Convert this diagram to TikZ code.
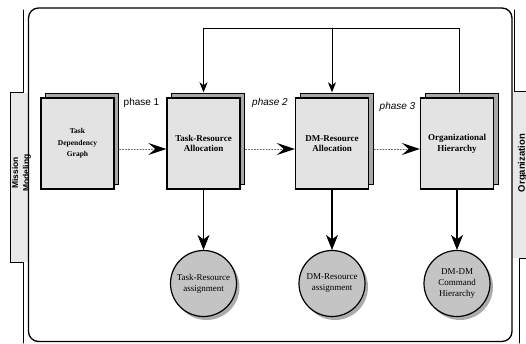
\documentclass[tikz,border=0pt]{standalone}
\usepackage{fontspec}
\setmainfont{Liberation Serif}
\setsansfont{Liberation Sans}
\usetikzlibrary{arrows.meta,shadows}

\begin{document}
\begin{tikzpicture}[x=10pt,y=10pt,line cap=round,
  stage/.style={draw,line width=1.4pt,fill=gray!22,minimum width=73pt,minimum height=91pt,align=center,inner sep=1pt,
    font=\bfseries\fontsize{9}{10.7}\selectfont,
    copy shadow={shadow xshift=4.5pt,shadow yshift=5pt,fill=gray!68,draw=black,line width=.6pt}},
  result/.style={circle,draw,line width=1.2pt,fill=gray!46,minimum size=66pt,inner sep=0pt,align=center,
    font=\fontsize{9}{11}\selectfont,
    drop shadow={shadow xshift=3pt,shadow yshift=-3.5pt,fill=gray!65,opacity=1}},
  yields/.style={line width=1.6pt,-{Stealth[length=15pt,width=12pt,inset=4.5pt,line width=.8pt]}},
  phase/.style={gray!70!black,dotted,line width=.9pt,-{Stealth[length=18pt,width=12pt,inset=7pt,color=black,line width=1pt]}},
  back/.style={line width=.8pt,-{Stealth[length=10pt,width=8pt,inset=3pt]}},
  tag/.style={font=\sffamily\fontsize{10}{12}\selectfont},
  side/.style={rotate=90,align=center,font=\sffamily\bfseries\fontsize{8.5}{11}\selectfont}]
\useasboundingbox (0,0) rectangle (52.6,34.3);
\fill[gray!18] (1.0,8.1) rectangle (2.85,25.0);
\fill[gray!18] (51.2,8.5) rectangle (52.6,25.1);
\draw[line width=1pt] (2.3,33.3) -- (2.3,25.0) -- (1.0,25.0) -- (1.0,8.1) -- (2.3,8.1) -- (2.3,0);
\draw[line width=1pt] (51.4,33.3) -- (51.4,25.1) -- (52.6,25.1);
\draw[line width=1pt] (52.6,8.5) -- (51.9,8.5) -- (51.9,0);
\draw[line width=1.3pt,rounded corners=10pt] (2.85,0.15) rectangle (51.2,33.5);
\node[side] (mission) at (2.15,17.0) {Mission\\Modeling};
\node[side,font=\sffamily\bfseries\fontsize{9.5}{11}\selectfont] (organization) at (52.25,18.0) {Organization};

\node[stage,font=\bfseries\fontsize{7.5}{11.5}\selectfont] (tdg) at (7.75,19.95) {Task\\Dependency\\Graph};
\node[stage] (tra) at (20.35,19.95) {Task-Resource\\Allocation};
\node[stage] (dra) at (33.2,19.95) {DM-Resource\\Allocation};
\node[stage] (orgh) at (45.7,19.95) {Organizational\\Hierarchy};

\node[result] (tras) at (20.35,5.95) {Task-Resource\\assignment};
\node[result] (dras) at (33.2,5.95) {DM-Resource\\assignment};
\node[result] (ddch) at (45.7,5.95) {DM-DM\\Command\\Hierarchy};

\draw[yields] (tra.south) -- (tras.north);
\draw[yields] (dra.south) -- (dras.north);
\draw[yields] (orgh.south) -- (ddch.north);

\draw[phase,shorten <=5pt] ([yshift=-5.5pt]tdg.east) -- ([yshift=-5.5pt]tra.west);
\draw[phase,shorten <=5pt] ([yshift=-5.5pt]tra.east) -- ([yshift=-5.5pt]dra.west);
\draw[phase,shorten <=5pt] ([yshift=-5.5pt]dra.east) -- ([yshift=-5.5pt]orgh.west);
\node[tag] (p1) at (14.15,24.0) {phase 1};
\node[tag] (p2) at (27.0,24.0) {\itshape phase 2};
\node[tag] (p3) at (39.75,23.6) {\itshape phase 3};

\coordinate (loop) at (0,31.5);
\draw[back,shorten >=5pt] ([xshift=2pt,yshift=5pt]orgh.north) |- (loop -| tra.north) -- (tra.north);
\draw[back,shorten >=5pt] (dra.north |- loop) -- (dra.north);
\end{tikzpicture}
\end{document}
